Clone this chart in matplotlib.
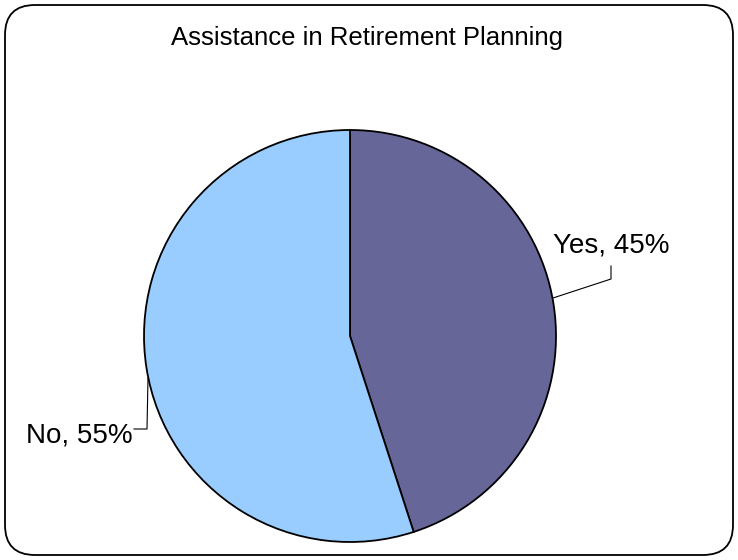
import matplotlib

matplotlib.use('Agg')
import matplotlib.pyplot as plt
from matplotlib.patches import FancyBboxPatch

plt.rcParams['font.family'] = ['Liberation Sans', 'DejaVu Sans']

# Datos del gráfico
categorias = ['Yes', 'No']
porcentajes = [45, 55]
colores = ['#666699', '#99CCFF']
titulo = 'Assistance in Retirement Planning'

ancho_px, alto_px = 738, 560
fig = plt.figure(figsize=(ancho_px / 100, alto_px / 100), dpi=100)
ax = fig.add_axes([0, 0, 1, 1])
ax.set_xlim(0, ancho_px)
ax.set_ylim(0, alto_px)
ax.set_aspect('equal')
ax.axis('off')

# Marco redondeado alrededor del gráfico
marco = FancyBboxPatch((5, 5), 728, 550, boxstyle='round,pad=0,rounding_size=30',
                       facecolor='white', edgecolor='black', linewidth=1.3, zorder=0)
ax.add_patch(marco)

centro = (350, alto_px - 336)
radio = 206
ax.pie(porcentajes, colors=colores, startangle=90, counterclock=False,
       center=centro, radius=radio, frame=True,
       wedgeprops=dict(edgecolor='black', linewidth=1.3))
ax.set_xlim(0, ancho_px)
ax.set_ylim(0, alto_px)
ax.axis('off')

# Líneas guía y etiquetas
ax.plot([553, 611, 611], [alto_px - 298, alto_px - 279, alto_px - 266],
        color='black', linewidth=0.8)
ax.plot([148, 147, 134], [alto_px - 378, alto_px - 429, alto_px - 429],
        color='black', linewidth=0.8)
ax.text(611, alto_px - 245, f'{categorias[0]}, {porcentajes[0]}%', fontsize=20,
        ha='center', va='center')
ax.text(133, alto_px - 436, f'{categorias[1]}, {porcentajes[1]}%', fontsize=20,
        ha='right', va='center')

ax.text(367, alto_px - 38, titulo, fontsize=18.5, ha='center', va='center')

fig.savefig('out.png', dpi=100)
plt.close(fig)
